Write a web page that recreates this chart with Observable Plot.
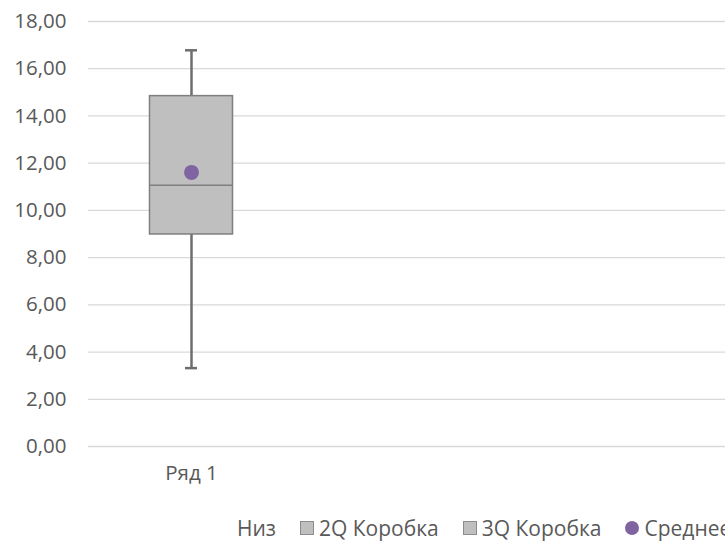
<!DOCTYPE html>
<html>
<head>
<meta charset="utf-8">
<script src="https://cdn.jsdelivr.net/npm/d3@7"></script>
<script src="https://cdn.jsdelivr.net/npm/@observablehq/plot@0.6"></script>
<style>
  html, body { margin: 0; padding: 0; background: #fff; overflow: hidden; width: 725px; height: 541px; }
  #chart { position: relative; width: 725px; }
  .legend { display: flex; align-items: center; white-space: nowrap; font-family: "Open Sans", sans-serif; font-size: 21px; line-height: 22px; color: #595959; margin-left: 237px; margin-top: 7px; height: 22px; }
  .legend .item { display: flex; align-items: center; margin-right: 24px; }
  .legend .sw { display: inline-block; width: 12px; height: 12px; margin-right: 5px; }
</style>
</head>
<body>
<div id="chart"></div>
<script>
// ---- data ----
const categories = ["Ряд 1"];
const minValues = [3.32];
const q1Values = [8.98];
const medianValues = [11.06];
const meanValues = [11.61];
const q3Values = [14.84];
const maxValues = [16.78];
const yTicks = [0, 2, 4, 6, 8, 10, 12, 14, 16, 18];
const legendItems = [
  {label: "Низ", kind: "none"},
  {label: "2Q Коробка", kind: "square"},
  {label: "3Q Коробка", kind: "square"},
  {label: "Среднее", kind: "circle"}
];

const rows = categories.map((c, i) => ({
  series: c, min: minValues[i], q1: q1Values[i], median: medianValues[i],
  mean: meanValues[i], q3: q3Values[i], max: maxValues[i]
}));

const W = 725, H = 510, mL = 88, mT = 21, mB = 64;
const band = 206;
const boxInset = 61.5, capInset = 97;
const textColor = "#595959";
const fmt = d => d.toFixed(2).replace(".", ",");

const plot = Plot.plot({
  width: W, height: H,
  marginLeft: mL, marginRight: 0, marginTop: mT, marginBottom: mB,
  style: {fontFamily: "'Open Sans', sans-serif", fontSize: "20.5px", color: textColor, background: "#fff"},
  x: {domain: categories, range: [mL, mL + band], padding: 0, label: null},
  y: {domain: [0, 18], label: null},
  marks: [
    Plot.ruleY(yTicks, {stroke: "#d9d9d9", strokeWidth: 1.3}),
    Plot.axisY({ticks: yTicks, tickFormat: fmt, tickSize: 0, tickPadding: 22, label: null, fill: textColor}),
    Plot.axisX({tickSize: 0, tickPadding: 19, label: null, fill: textColor}),
    Plot.ruleX(rows, {x: "series", y1: "min", y2: "q1", stroke: "#6e6e6e", strokeWidth: 2.5}),
    Plot.ruleX(rows, {x: "series", y1: "q3", y2: "max", stroke: "#6e6e6e", strokeWidth: 2.5}),
    Plot.tickY(rows, {x: "series", y: "min", stroke: "#6e6e6e", strokeWidth: 2.5, insetLeft: capInset, insetRight: capInset}),
    Plot.tickY(rows, {x: "series", y: "max", stroke: "#6e6e6e", strokeWidth: 2.5, insetLeft: capInset, insetRight: capInset}),
    Plot.barY(rows, {x: "series", y1: "q1", y2: "q3", fill: "#bfbfbf", stroke: "#7f7f7f", strokeWidth: 1.5, insetLeft: boxInset, insetRight: boxInset}),
    Plot.tickY(rows, {x: "series", y: "median", stroke: "#7f7f7f", strokeWidth: 1.5, insetLeft: boxInset, insetRight: boxInset}),
    Plot.dot(rows, {x: "series", y: "mean", r: 7.5, fill: "#8064a2", stroke: "none"})
  ]
});
const chart = document.getElementById("chart");
chart.appendChild(plot);

const legend = document.createElement("div");
legend.className = "legend";
for (const it of legendItems) {
  const item = document.createElement("div");
  item.className = "item";
  if (it.kind !== "none") {
    const sw = document.createElement("span");
    sw.className = "sw";
    if (it.kind === "square") { sw.style.background = "#bfbfbf"; sw.style.border = "1px solid #8c8c8c"; }
    else { sw.style.background = "#8064a2"; sw.style.borderRadius = "50%"; sw.style.width = "14px"; sw.style.height = "14px"; }
    item.appendChild(sw);
  }
  const t = document.createElement("span");
  t.textContent = it.label;
  item.appendChild(t);
  legend.appendChild(item);
}
chart.appendChild(legend);
</script>
</body>
</html>
